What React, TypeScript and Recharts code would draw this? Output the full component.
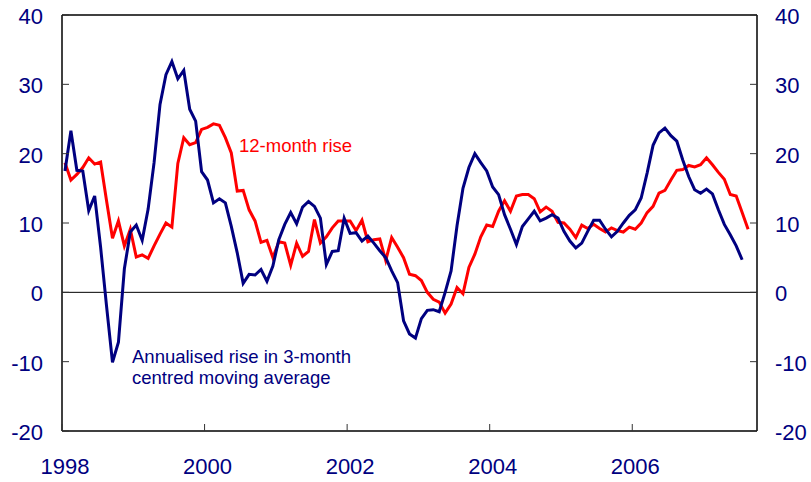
import React from "react";
import {
  LineChart,
  Line,
  XAxis,
  YAxis,
  ReferenceLine,
  Customized,
} from "recharts";

// Monthly, Jan 1998 onwards
const twelveMonthRise: number[] = [
  18.7, 16.2, 17.0, 18.0, 19.4, 18.5, 18.8, 13.2, 7.8, 10.3, 6.7, 9.1,
  5.1, 5.4, 4.9, 6.7, 8.4, 10.0, 9.4, 18.6, 22.3, 21.3, 21.6, 23.5,
  23.8, 24.3, 24.1, 22.3, 20.1, 14.6, 14.7, 11.9, 10.3, 7.2, 7.5, 5.0,
  7.3, 7.1, 3.9, 7.1, 5.2, 5.9, 10.5, 7.1, 8.0, 9.3, 10.3, 10.3,
  10.3, 8.9, 10.4, 7.3, 7.6, 7.7, 4.6, 7.9, 6.5, 5.0, 2.6, 2.4,
  1.7, 0.0, -1.0, -1.4, -3.0, -1.7, 0.7, -0.2, 3.6, 5.5, 8.0, 9.7,
  9.5, 11.7, 13.2, 11.7, 13.9, 14.1, 14.1, 13.5, 11.6, 12.3, 11.7, 10.1,
  10.0, 9.1, 7.9, 9.7, 9.2, 9.8, 9.2, 8.7, 9.3, 8.9, 8.7, 9.4,
  9.1, 10.0, 11.5, 12.4, 14.3, 14.7, 16.2, 17.6, 17.7, 18.3, 18.1, 18.4,
  19.4, 18.4, 17.3, 16.3, 14.1, 13.9, 11.5, 9.1,
];

const annualisedRise: number[] = [
  17.5, 23.3, 17.6, 17.5, 11.8, 13.9, 6.5, -2.0, -10.1, -7.2, 3.4, 8.7,
  9.7, 7.5, 12.0, 18.7, 27.1, 31.4, 33.3, 30.8, 32.0, 26.4, 24.7, 17.4,
  16.2, 12.9, 13.5, 12.9, 9.5, 5.7, 1.3, 2.6, 2.5, 3.3, 1.6, 3.8,
  7.6, 9.8, 11.5, 9.9, 12.3, 13.1, 12.4, 10.7, 4.0, 5.9, 6.0, 10.7,
  8.5, 8.6, 7.4, 8.1, 7.1, 6.0, 5.0, 3.1, 1.4, -4.1, -6.0, -6.6,
  -3.8, -2.6, -2.5, -2.8, 0.0, 3.1, 9.6, 15.0, 18.0, 20.0, 18.7, 17.5,
  15.2, 14.1, 11.2, 9.1, 6.9, 9.5, 10.6, 11.7, 10.3, 10.7, 11.2, 10.7,
  8.8, 7.4, 6.4, 7.1, 8.8, 10.4, 10.4, 9.1, 8.0, 8.8, 10.0, 11.1,
  11.9, 13.6, 17.2, 21.2, 23.0, 23.7, 22.6, 21.8, 19.1, 16.7, 14.8, 14.3,
  14.9, 14.2, 11.9, 9.8, 8.3, 6.7, 4.7,
];

const yearTicks: number[] = [0, 24, 48, 72, 96];
const yearLabels: string[] = ["1998", "2000", "2002", "2004", "2006"];
const valueTicks: number[] = [-20, -10, 0, 10, 20, 30, 40];

const data = twelveMonthRise.map((r, i) => ({
  m: i + 0.5,
  red: r,
  blue: i < annualisedRise.length ? annualisedRise[i] : null,
}));

const NAVY = "#000080";
const RED = "#ff0000";
const FONT = "'Liberation Sans', Arial, sans-serif";

const LeftTick = (p: any) => (
  <g>
    <line x1={p.x} x2={p.x + 7} y1={p.y} y2={p.y} stroke="#333" strokeWidth={1} />
    <text x={p.x - 19} y={p.y + 9} textAnchor="end" fill={NAVY} fontSize={22} fontFamily={FONT}>
      {p.payload.value}
    </text>
  </g>
);

const RightTick = (p: any) => (
  <g>
    <line x1={p.x - 7} x2={p.x} y1={p.y} y2={p.y} stroke="#333" strokeWidth={1} />
    <text x={p.x + 18} y={p.y + 9} textAnchor="start" fill={NAVY} fontSize={22} fontFamily={FONT}>
      {p.payload.value}
    </text>
  </g>
);

const BottomTick = (p: any) => {
  const idx = yearTicks.indexOf(p.payload.value);
  return (
    <g>
      <line x1={p.x} x2={p.x} y1={p.y} y2={p.y - 7} stroke="#333" strokeWidth={1} />
      <text x={p.x + 3} y={p.y + 43} textAnchor="middle" fill={NAVY} fontSize={22} fontFamily={FONT}>
        {idx >= 0 ? yearLabels[idx] : ""}
      </text>
    </g>
  );
};

const Annotations = () => (
  <g fontFamily={FONT} fontSize={18.5}>
    <text x={239} y={152} fill={RED}>12-month rise</text>
    <text x={132} y={362.5} fill={NAVY}>Annualised rise in 3-month</text>
    <text x={132} y={383.5} fill={NAVY}>centred moving average</text>
  </g>
);

export default function App() {
  return (
    <div style={{ position: "absolute", left: 0, top: 0, background: "#fff" }}>
      <LineChart
        width={811}
        height={482}
        data={data}
        margin={{ top: 15, right: 0, bottom: 0, left: 0 }}
      >
        <XAxis
          type="number"
          dataKey="m"
          domain={[0, 117]}
          ticks={yearTicks}
          allowDataOverflow
          height={51}
          tickSize={0}
          tickMargin={0}
          tick={<BottomTick />}
          axisLine={{ stroke: "#000", strokeWidth: 1.5 }}
          interval={0}
        />
        <YAxis
          yAxisId="left"
          orientation="left"
          type="number"
          domain={[-20, 40]}
          ticks={valueTicks}
          width={62}
          tickSize={0}
          tickMargin={0}
          tick={<LeftTick />}
          axisLine={{ stroke: "#000", strokeWidth: 1.5 }}
          interval={0}
        />
        <YAxis
          yAxisId="right"
          orientation="right"
          type="number"
          domain={[-20, 40]}
          ticks={valueTicks}
          width={54}
          tickSize={0}
          tickMargin={0}
          tick={<RightTick />}
          axisLine={{ stroke: "#000", strokeWidth: 1.5 }}
          interval={0}
        />
        <ReferenceLine yAxisId="left" y={0} stroke="#000" strokeWidth={1} />
        <ReferenceLine yAxisId="left" y={40} stroke="#000" strokeWidth={1.5} />
        <Line
          yAxisId="left"
          type="linear"
          dataKey="red"
          stroke={RED}
          strokeWidth={3}
          dot={false}
          isAnimationActive={false}
          connectNulls={false}
        />
        <Line
          yAxisId="right"
          type="linear"
          dataKey="blue"
          stroke={NAVY}
          strokeWidth={3}
          dot={false}
          isAnimationActive={false}
          connectNulls={false}
        />
        <Customized component={Annotations} />
      </LineChart>
    </div>
  );
}
